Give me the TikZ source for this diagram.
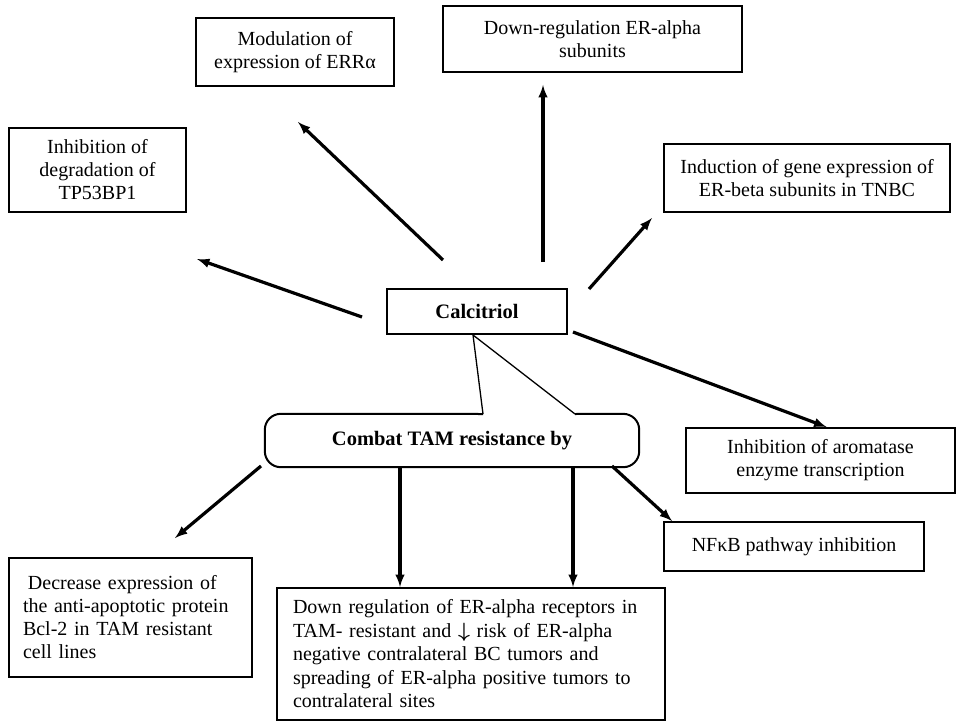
\documentclass[tikz,border=0pt]{standalone}
\usepackage{fontspec}
\setmainfont{Liberation Serif}
\usetikzlibrary{arrows, positioning}

\tikzset{box/.style={draw, line width=2pt, inner sep=0pt, align=center, font=\fontsize{20}{23}\selectfont},
         arr/.style={line width=3.2pt, -latex}}

\begin{document}
\begin{tikzpicture}[x=1pt, y=-1pt]
\useasboundingbox (0,0) rectangle (957,722);

\node [box, minimum width=198pt, minimum height=68pt] (modul) at (295,52) {Modulation of\\expression of ERRα};
\node [box, minimum width=299pt, minimum height=66pt] (downreg) at (592.5,39) {Down-regulation ER-alpha\\subunits};
\node [box, minimum width=177pt, minimum height=84pt] (tp53) at (97.5,170) {Inhibition of\\degradation of\\TP53BP1};
\node [box, minimum width=286pt, minimum height=68pt] (induct) at (807,178) {Induction of gene expression of\\ER-beta subunits in TNBC};
\node [box, minimum width=180pt, minimum height=45pt, font=\fontsize{20.5}{22}\selectfont\bfseries] (calc) at (477,311.5) {Calcitriol};
\node [box, minimum width=269pt, minimum height=65pt] (aromat) at (820.5,460.5) {Inhibition of aromatase\\enzyme transcription};
\node [box, minimum width=260pt, minimum height=49pt] (nfkb) at (794,546.5) {NFκB pathway inhibition};
\node [box, align=left, inner xsep=14pt, text width=215pt, minimum height=119pt] (decr) at (130.5,617.5) {\hspace*{5pt}Decrease expression of\\the anti-apoptotic protein\\Bcl-2 in TAM resistant\\cell lines};
\node [box, align=left, inner xsep=16pt, text width=356pt, minimum height=132pt, font=\fontsize{20}{23.5}\selectfont] (downer) at (471,654) {Down regulation of ER-alpha receptors in\\TAM- resistant and {\boldmath$\downarrow$} risk of ER-alpha\\negative contralateral BC tumors and\\spreading of ER-alpha positive tumors to\\contralateral sites};

% callout
\node [minimum width=374pt, minimum height=53pt, inner sep=0pt, font=\fontsize{20.5}{22}\selectfont\bfseries] (combat) at (452,440.5) {Combat TAM resistance by};
\coordinate (pl) at (483,414);
\coordinate (pr) at (575,414);
\draw [line width=2pt, rounded corners=16pt] (pl) -- (combat.north west) -- (combat.south west) -- (combat.south east) -- (combat.north east) -- (pr);
\draw [line width=1.3pt] (pl) -- ([xshift=-4pt]calc.south) -- (pr);

% arrow ends
\coordinate (m0) at (443,260);
\coordinate (m1) at (298,122);
\coordinate (t0) at (362,317);
\coordinate (t1) at (197,259);
\coordinate (d0) at (543,262);
\coordinate (d1) at (543,85);
\coordinate (i0) at (589,289);
\coordinate (i1) at (652,218);
\coordinate (r0) at (573,332);
\coordinate (b0) at (261,466);
\coordinate (b1) at (175,538);
\coordinate (n0) at (612,466);
\coordinate (c1) at (400,467);
\coordinate (c2) at (573,467);

\draw [arr] (m0) -- (m1);
\draw [arr] (t0) -- (t1);
\draw [arr] (d0) -- (d1);
\draw [arr] (i0) -- (i1);
\draw [arr] (r0) -- ([xshift=6pt]aromat.north);
\draw [arr] (b0) -- (b1);
\draw [arr] (n0) -- ([xshift=9pt]nfkb.north west);
\draw [arr] (c1) -- (c1 |- downer.north);
\draw [arr] (c2) -- (c2 |- downer.north);
\end{tikzpicture}
\end{document}
